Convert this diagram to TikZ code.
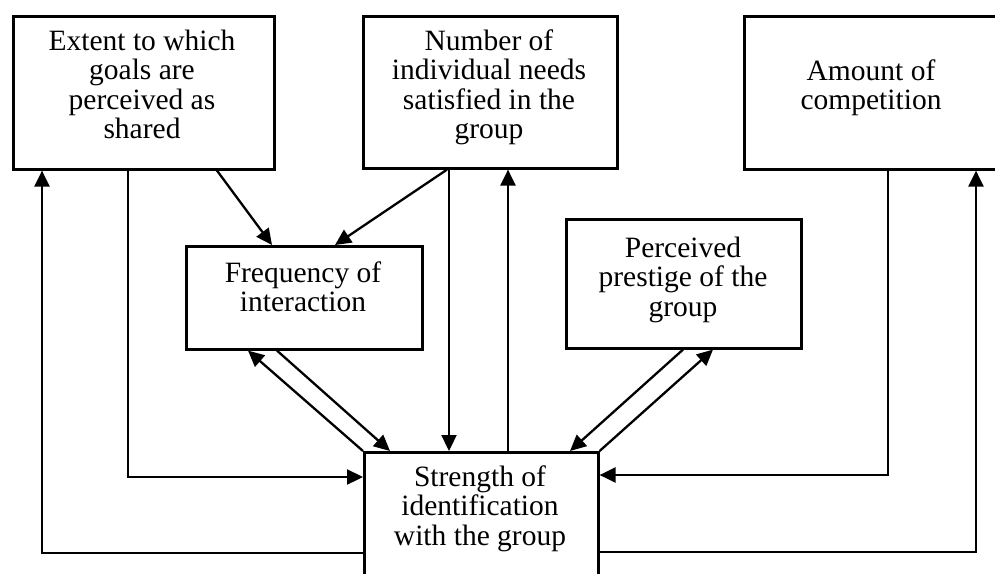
\documentclass[tikz,border=0pt]{standalone}
\usepackage{fontspec}
\setmainfont{Liberation Serif}
\usetikzlibrary{arrows.meta}
\begin{document}
\begin{tikzpicture}[x=1pt,y=-1pt,
  box/.style={draw, line width=2.6pt, inner sep=0pt, anchor=north west},
  lbl/.style={align=center, anchor=base, inner sep=0pt, font=\fontsize{29.5}{29.5}\selectfont},
  conn/.style={line width=2.3pt, -{Triangle[length=16pt,width=15pt]}}]
\useasboundingbox (0,0) rectangle (995,573);
% boxes
\node[box, minimum width=261pt, minimum height=153pt] (A) at (12,15) {};
\node[box, minimum width=254pt, minimum height=152pt] (B) at (362,15) {};
\node[box, minimum width=256pt, minimum height=153pt] (C) at (743,15) {};
\node[box, minimum width=236pt, minimum height=103pt] (D) at (185,245) {};
\node[box, minimum width=235pt, minimum height=129pt] (E) at (565,218) {};
\node[box, minimum width=234pt, minimum height=134pt] (F) at (363,451) {};
% texts (anchor = baseline of the last line)
\node[lbl] (At) at (142,138.5) {Extent to which\\goals are\\perceived as\\shared};
\node[lbl] (Bt) at (489,138.5) {Number of\\individual needs\\satisfied in the\\group};
\node[lbl] (Ct) at (871,109.5) {Amount of\\competition};
\node[lbl] (Dt) at (303,311.5) {Frequency of\\interaction};
\node[lbl] (Et) at (683,316) {Perceived\\prestige of the\\group};
\node[lbl] (Ft) at (480,545) {Strength of\\identification\\with the group};
% helper coordinates
\coordinate (xa1) at (128,0);
\coordinate (xa2) at (42,0);
\coordinate (xa3) at (217,0);
\coordinate (xd1) at (272,0);
\coordinate (xd2) at (335,0);
\coordinate (xd3) at (248,0);
\coordinate (xd4) at (277,0);
\coordinate (xb1) at (447,0);
\coordinate (xb2) at (449,0);
\coordinate (xb3) at (508,0);
\coordinate (xf1) at (390,0);
\coordinate (xf2) at (570,0);
\coordinate (xe1) at (683,0);
\coordinate (xe2) at (713,0);
\coordinate (xc1) at (888,0);
\coordinate (xc2) at (976,0);
\coordinate (ya1) at (0,477);
\coordinate (ya2) at (0,553);
\coordinate (ya3) at (0,475);
\coordinate (ya4) at (0,552);
% connectors
\draw[conn] (A.south -| xa1) |- (F.west |- ya1);
\draw[conn] (F.west |- ya2) -| (A.south -| xa2);
\draw[conn] (A.south -| xa3) -- (D.north -| xd1);
\draw[conn] (B.south -| xb1) -- (D.north -| xd2);
\draw[conn] (B.south -| xb2) -- (F.north -| xb2);
\draw[conn] (F.north -| xb3) -- (B.south -| xb3);
\draw[conn] (F.north west) -- (D.south -| xd3);
\draw[conn] (D.south -| xd4) -- (F.north -| xf1);
\draw[conn] (E.south -| xe1) -- (F.north -| xf2);
\draw[conn] (F.north east) -- (E.south -| xe2);
\draw[conn] (C.south -| xc1) |- (F.east |- ya3);
\draw[conn] (F.east |- ya4) -| (C.south -| xc2);
\end{tikzpicture}
\end{document}
